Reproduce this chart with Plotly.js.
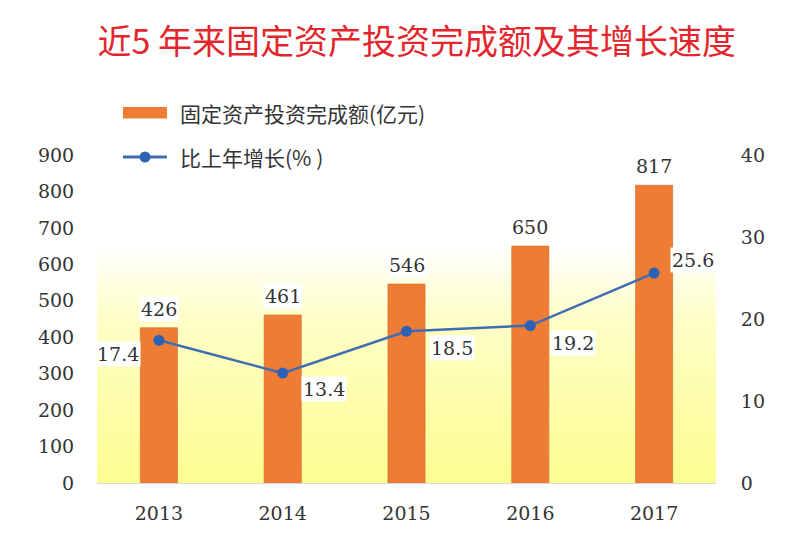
<!DOCTYPE html>
<html><head><meta charset="utf-8">
<script src="https://cdn.plot.ly/plotly-3.0.1.min.js"></script>
<style>html,body{margin:0;padding:0;background:#fff}</style>
</head><body><div id="chart" style="width:800px;height:553px"></div>
<script>
// ---- data ----
const years = ['2013', '2014', '2015', '2016', '2017'];
const investment = [426, 461, 546, 650, 817];
const growth = [17.4, 13.4, 18.5, 19.2, 25.6];
const leftTickVals = [0, 100, 200, 300, 400, 500, 600, 700, 800, 900];
const rightTickVals = [0, 10, 20, 30, 40];
const seriesNames = ['固定资产投资完成额(亿元)', '比上年增长(% )'];
const chartTitle = '近5 年来固定资产投资完成额及其增长速度';

// ---- label placement (style only) ----
const growthLabelAnchor = ['right', 'left', 'left', 'left', 'left'];
const growthLabelDx = [-18, 18, 22, 20, 16];
const growthLabelDy = [-14, -16, -17, -17, 13];

const numFont = {family: 'DejaVu Serif, Liberation Serif, serif', size: 19, color: '#333333'};
const legFont = {family: 'Noto Sans CJK SC', size: 21, color: '#333333'};

const svg = '<svg xmlns="http://www.w3.org/2000/svg" width="100" height="100" preserveAspectRatio="none">' +
  '<defs><linearGradient id="g" x1="0" y1="0" x2="0" y2="1">' +
  '<stop offset="0" stop-color="#FFFFFF"/>' +
  '<stop offset="0.35" stop-color="#FEFEC4"/>' +
  '<stop offset="1" stop-color="#FDFD92"/>' +
  '</linearGradient></defs><rect width="100" height="100" fill="url(#g)"/></svg>';
const bgSrc = 'data:image/svg+xml;base64,' + btoa(svg);

const barColor = '#EE7C35';
const lineColor = '#3F6DB3';
const markerColor = '#2B62B6';

const barTrace = {
  type: 'bar', x: years, y: investment, name: seriesNames[0],
  width: 0.3, showlegend: false,
  marker: {color: barColor, line: {color: '#D06A2A', width: 0.6}}
};
const lineTrace = {
  type: 'scatter', mode: 'lines+markers', x: years, y: growth, yaxis: 'y2',
  name: seriesNames[1], showlegend: false,
  line: {color: lineColor, width: 2.5},
  marker: {color: markerColor, size: 11}
};

const annotations = [];
years.forEach((yr, i) => {
  annotations.push({
    x: i, y: investment[i], xref: 'x', yref: 'y', text: String(investment[i]),
    showarrow: false, xanchor: 'center', yanchor: 'bottom', yshift: 6,
    bgcolor: '#FFFFFF', font: numFont, borderpad: 1
  });
  annotations.push({
    x: i, y: growth[i], xref: 'x', yref: 'y2', text: growth[i].toFixed(1),
    showarrow: false, xanchor: growthLabelAnchor[i], yanchor: 'middle',
    xshift: growthLabelDx[i], yshift: growthLabelDy[i],
    bgcolor: '#FFFFFF', font: numFont, borderpad: 1
  });
});
// custom legend texts
annotations.push({xref: 'paper', yref: 'paper', x: 0.131, y: 1.128, xanchor: 'left', yanchor: 'middle',
  text: seriesNames[0], showarrow: false, font: legFont});
annotations.push({xref: 'paper', yref: 'paper', x: 0.131, y: 0.994, xanchor: 'left', yanchor: 'middle',
  text: seriesNames[1], showarrow: false, font: legFont});

const shapes = [
  {type: 'rect', xref: 'paper', yref: 'paper', x0: 0.042, x1: 0.113, y0: 1.111, y1: 1.146,
    fillcolor: barColor, line: {width: 0}},
  {type: 'line', xref: 'paper', yref: 'paper', x0: 0.042, x1: 0.113, y0: 0.994, y1: 0.994,
    line: {color: lineColor, width: 3}},
  {type: 'circle', xref: 'paper', yref: 'paper', x0: 0.0687, x1: 0.0864, y0: 0.977, y1: 1.011,
    fillcolor: markerColor, line: {width: 0}}
];

const layout = {
  width: 800, height: 553,
  margin: {l: 97, r: 84, t: 155, b: 70},
  paper_bgcolor: '#FFFFFF', plot_bgcolor: 'rgba(0,0,0,0)',
  title: {
    text: chartTitle, x: 0.521, xanchor: 'center', y: 0.924, yanchor: 'middle',
    font: {family: 'Noto Sans CJK SC', size: 34, color: '#E3262C'}
  },
  showlegend: false,
  xaxis: {
    type: 'category', range: [-0.5, 4.5],
    showline: true, linecolor: '#D8D8D8', linewidth: 1,
    showgrid: false, zeroline: false,
    ticks: 'outside', ticklen: 13, tickcolor: 'rgba(0,0,0,0)',
    tickfont: numFont
  },
  yaxis: {
    range: [0, 900], tickvals: leftTickVals, showgrid: false, zeroline: false,
    showline: false, ticks: 'outside', ticklen: 18, tickcolor: 'rgba(0,0,0,0)',
    tickfont: numFont
  },
  yaxis2: {
    range: [0, 40], tickvals: rightTickVals, overlaying: 'y', side: 'right',
    showgrid: false, zeroline: false, showline: false,
    ticks: 'outside', ticklen: 20, tickcolor: 'rgba(0,0,0,0)',
    tickfont: numFont
  },
  images: [{
    source: bgSrc, xref: 'paper', yref: 'y', x: 0, y: 660, sizex: 1, sizey: 660,
    sizing: 'stretch', layer: 'below', xanchor: 'left', yanchor: 'top'
  }],
  shapes: shapes,
  annotations: annotations
};

Plotly.newPlot('chart', [barTrace, lineTrace], layout, {displayModeBar: false});
</script></body></html>
